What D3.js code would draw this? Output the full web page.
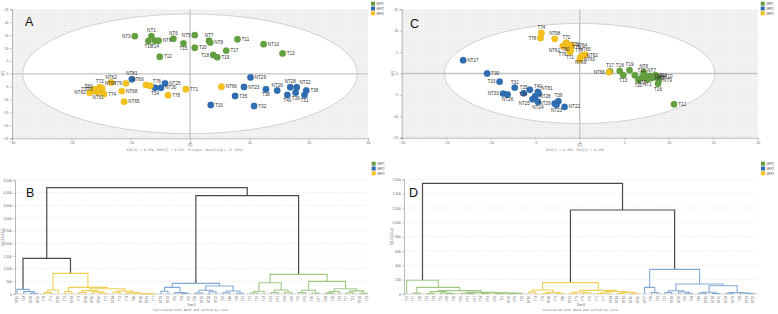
<!DOCTYPE html>
<html lang="en">
<head>
  <meta charset="UTF-8">
  <script src="https://cdn.jsdelivr.net/npm/d3@7"></script>
  <style>
    body { margin: 0; background: #fff; }
    svg text { font-family: "Liberation Sans", Arial, sans-serif; }
    .mono { font-family: "DejaVu Sans Mono", monospace; }
  </style>
</head>
<body>
<script>
  // groups
  const groupNames = ['GRP1', 'GRP2', 'GRP3'];
  const groupColors = ['#63a03f', '#2f6db3', '#f5c11b'];
  const linkColors = ['#9fc784', '#82a9d2', '#f0cf55'];

  // PCA scores, panel A  [label, t1, t2]
  const scoresA1 = [['NT3', -9.3, 14.6], ['NT1', -6.5, 14.6], ['T16', -7.0, 12.7], ['T14', -5.9, 12.8], ['NT9', -5.3, 12.8],
    ['NT6', -2.8, 13.6], ['T12', -5.1, 6.6], ['NT5', 0.8, 15.0], ['T15', -1.1, 11.8], ['T20', 0.8, 10.1], ['NT7', 3.2, 12.8],
    ['NT8', 3.4, 12.1], ['T11', 8.0, 13.4], ['NT10', 12.4, 11.5], ['T17', 6.1, 9.0], ['T18', 3.9, 7.3], ['T19', 4.6, 6.4], ['T13', 15.6, 7.9]];
  const scoresA2 = [['NT81', -9.8, -2.1], ['NT25', -4.2, -3.7], ['T34', -5.9, -5.4], ['NT30', -4.9, -5.4], ['NT29', 10.2, -1.4],
    ['NT23', 9.1, -5.1], ['T35', 7.6, -8.6], ['T33', 3.5, -12.1], ['T32', 10.8, -12.5], ['T38', 12.8, -6.0], ['NT26', 14.7, -6.5],
    ['NT28', 16.9, -5.2], ['NT22', 18.0, -5.2], ['T36', 19.6, -6.5], ['T40', 16.4, -8.2], ['T39', 17.8, -7.3], ['T31', 19.3, -8.2]];
  const scoresA3 = [['T71', -0.7, -6.0], ['NT66', 5.3, -5.0], ['T78', -3.7, -8.3], ['NT69', -7.4, -4.3], ['T76', -6.7, -4.7],
    ['T79', -10.8, -3.7], ['NT68', -11.5, -6.7], ['NT65', -11.1, -10.8], ['NT62', -13.3, -3.4], ['T72', -15.2, -5.2],
    ['NT64', -14.8, -5.6], ['T74', -14.5, -7.8], ['NT63', -16.9, -7.3], ['T80', -16.0, -6.7], ['NT61', -15.5, -7.1],
    ['T73', -15.7, -6.2], ['T77', -16.3, -6.0]];

  // PCA scores, panel C
  const scoresC1 = [['T17', 3.4, 0.5], ['T18', 4.5, 0.6], ['T13', 4.9, -0.4], ['T19', 5.6, 0.8], ['T15', 6.2, -0.4], ['NT8', 7.2, 0.3],
    ['T20', 6.6, -1.5], ['NT5', 7.0, -0.9], ['NT1', 7.6, -1.3], ['NT7', 7.3, -0.5], ['T14', 7.9, -0.6], ['NT3', 8.0, -1.1],
    ['NT6', 8.3, -0.9], ['T11', 8.5, -0.4], ['NT10', 8.7, -0.7], ['NT9', 8.9, -1.5], ['T16', 8.8, -2.4], ['T12', 10.6, -7.2]];
  const scoresC2 = [['NT27', -13.1, 3.1], ['T30', -10.4, 0.0], ['T33', -9.0, -1.9], ['T31', -7.3, -3.3], ['NT30', -8.6, -4.7],
    ['NT26', -8.1, -4.9], ['T35', -6.3, -4.6], ['T34', -5.6, -3.8], ['T40', -4.7, -4.3], ['NT81', -4.6, -4.7], ['NT28', -5.0, -5.3],
    ['NT25', -5.3, -6.0], ['NT24', -4.7, -6.6], ['NT29', -2.8, -7.0], ['T39', -2.4, -6.5], ['NT23', -2.6, -7.3], ['NT22', -1.7, -7.8]];
  const scoresC3 = [['T74', -4.3, 9.5], ['T78', -4.4, 8.3], ['NT68', -2.8, 8.1], ['T72', -1.5, 7.2], ['T80', -1.6, 6.8],
    ['NT61', -1.9, 6.4], ['NT64', -0.9, 6.6], ['T76', -1.3, 6.2], ['T79', -1.2, 5.6], ['T71', -1.1, 5.0], ['T77', -1.0, 5.4],
    ['T73', -1.4, 6.9], ['NT69', 0.1, 3.8], ['NT63', 0.0, 3.2], ['NT65', 0.6, 4.4], ['NT62', 0.3, 4.2], ['NT66', 3.3, 0.3]];

  // Ward dendrograms: [height, left, right] or leaf name
  const treeB = [4200,
    [1408,
      [184, 'NT81', [92, 'T34', [30, 'NT30', 'NT25']]],
      [816,
        [160, [55, 'T78', 'T71'], 'NT66'],
        [263,
          [95, 'T76', 'NT69'],
          [205,
            [135, [60, 'T79', 'NT68'], [85, 'NT65', [40, 'NT62', 'T72']]],
            [115, [70, 'NT64', 'T73'], [45, 'T74', [22, 'T80', [12, 'NT63', [6, 'NT61', 'T77']]]]]]]]],
    [3880,
      [421,
        [263, [110, 'NT29', 'NT23'], [55, 'T35', [25, 'T33', 'T32']]],
        [316, [150, [40, 'T38', 'NT26'], [90, 'NT28', 'NT22']], [120, [50, 'T36', 'T40'], [30, 'T39', 'T31']]]],
      [776,
        [447, [110, [40, 'T12', 'T16'], 'T14'], [160, [60, 'NT3', 'NT1'], [70, 'NT9', 'NT6']]],
        [500, [150, [55, 'T15', 'NT5'], [40, 'T20', 'NT7']],
          [210, [95, [35, 'NT8', 'T18'], 'T19'], [125, [50, 'T17', 'T11'], [30, 'NT10', 'T13']]]]]]];

  const treeD = [1544,
    [191, 'T12',
      [93, [12, 'T17', 'T18'],
        [47,
          [33, [8, 'T13', 'T19'], [14, 'T15', [6, 'NT8', 'T20']]],
          [22, [10, 'NT5', [4, 'NT1', 'NT7']], [18, [7, 'T14', 'NT3'], [12, [5, 'NT6', 'T11'], [9, [3, 'NT10', 'NT9'], 'T16']]]]]]],
    [1172,
      [158,
        [56, [30, 'NT66', 'T74'], [20, [8, 'T78', 'NT68'], [10, 'T72', 'T80']]],
        [50, [25, [12, 'NT61', 'T73'], [15, 'T79', 'T76']], [35, [18, [8, 'T71', 'T77'], 'NT64'], [22, [10, 'NT69', 'NT63'], [12, 'NT65', 'NT62']]]]],
      [344,
        [93, 'NT27', [20, 'T30', 'T33']],
        [140,
          [45, [20, 'T31', 'NT30'], [28, 'NT26', [10, 'T35', 'T34']]],
          [116, [25, [12, 'T40', 'NT81'], [8, 'NT28', 'NT25']], [20, [10, 'NT24', 'NT29'], [14, 'T39', [6, 'NT23', 'NT22']]]]]]]];

  // label placement (default right)
  const labelPosA = { NT3: 'l', NT1: 't', T16: 'b', T14: 'b', NT6: 't', NT5: 'l', T15: 'b', NT7: 't', T18: 'l',
    NT81: 't', T34: 'b', T38: 'b', NT26: 't', NT28: 't', NT22: 'tr', T40: 'b', T39: 'b', T31: 'b',
    NT69: 'tl', T76: 'tr', T79: 'l', NT62: 't', T72: 't', NT64: 'tr', NT63: 'l', T80: 'tl', NT61: 'b', T73: 'l', T77: 'l' };
  const labelPosC = { T17: 't', T18: 't', T13: 'b', T19: 't', T15: 'tr', NT8: 't', T20: 'b', NT5: 'b', NT1: 'b', NT7: 'tr',
    T14: 'r', NT3: 'r', T16: 'b', T33: 'l', T31: 't', NT30: 'l', NT26: 'b', T35: 't', T34: 'bl', T40: 't', NT81: 'tr',
    NT25: 'bl', NT24: 'b', NT29: 'l', T39: 't', NT23: 'b', T74: 't', T78: 'l', NT68: 't', T72: 't', NT61: 'bl', T79: 'bl',
    T71: 'b', NT69: 'b', NT65: 't', NT66: 'l', T80: 'b', T76: 'r' };

  const groupOf = {};
  [[scoresA1, scoresA2, scoresA3], [scoresC1, scoresC2, scoresC3]].forEach(set =>
    set.forEach((arr, gi) => arr.forEach(d => { groupOf[d[0]] = gi; })));

  const svg = d3.select('body').append('svg').attr('width', 778).attr('height', 314);

  const pat = svg.append('defs').append('pattern').attr('id', 'dots')
    .attr('width', 3).attr('height', 3).attr('patternUnits', 'userSpaceOnUse');
  pat.append('rect').attr('width', 3).attr('height', 3).attr('fill', '#f2f2f2');
  pat.append('circle').attr('cx', 1.5).attr('cy', 1.5).attr('r', 0.4).attr('fill', '#d8d8d8');

  const place = { r: [4.2, 1.6, 'start'], l: [-4.2, 1.6, 'end'], t: [0, -4, 'middle'], b: [0, 7, 'middle'],
    tr: [2.6, -3.4, 'start'], tl: [-2.6, -3.4, 'end'], br: [2.6, 6, 'start'], bl: [-2.6, 6, 'end'] };

  function legend(x, y) {
    groupNames.forEach((n, i) => {
      svg.append('rect').attr('x', x).attr('y', y + i * 4.8).attr('width', 4).attr('height', 4).attr('fill', groupColors[i]);
      svg.append('text').attr('x', x + 5.2).attr('y', y + i * 4.8 + 3.2).attr('font-size', 2.8).attr('fill', '#555').text(n);
    });
  }

  function styleAxis(a) {
    a.select('.domain').attr('stroke', '#8a8a8a').attr('stroke-width', 0.6);
    a.selectAll('.tick line').attr('stroke', '#8a8a8a').attr('stroke-width', 0.5);
    a.selectAll('text').attr('font-size', 3.4).attr('fill', '#666');
  }

  function scatter(c) {
    const x = d3.scaleLinear().domain(c.xDom).range([c.left, c.right]);
    const y = d3.scaleLinear().domain(c.yDom).range([c.bottom, c.top]);
    const g = svg.append('g');
    g.append('rect').attr('x', c.left).attr('y', c.top).attr('width', c.right - c.left)
      .attr('height', c.bottom - c.top).attr('fill', 'url(#dots)');
    g.append('ellipse').attr('cx', x(0)).attr('cy', y(0))
      .attr('rx', x(c.ea) - x(0)).attr('ry', y(0) - y(c.eb))
      .attr('fill', '#fff').attr('stroke', '#c6c6c6').attr('stroke-width', 0.8);
    g.append('line').attr('x1', x(0)).attr('x2', x(0)).attr('y1', c.top).attr('y2', c.bottom)
      .attr('stroke', '#c4c4c4').attr('stroke-width', 1.3);
    g.append('line').attr('x1', c.left).attr('x2', c.right).attr('y1', y(0)).attr('y2', y(0))
      .attr('stroke', '#c4c4c4').attr('stroke-width', 1.3);

    styleAxis(g.append('g').attr('transform', `translate(0,${c.bottom})`)
      .call(d3.axisBottom(x).tickValues(c.xTicks).tickSize(2).tickPadding(1.5)));
    styleAxis(g.append('g').attr('transform', `translate(${c.left},0)`)
      .call(d3.axisLeft(y).tickValues(c.yTicks).tickSize(2).tickPadding(1.5)));

    g.append('text').attr('x', x(0)).attr('y', c.bottom + 8).attr('text-anchor', 'middle')
      .attr('font-size', 3.2).attr('fill', '#666').text('t[1]');
    g.append('text').attr('transform', `translate(${c.left - 8},${y(0)}) rotate(-90)`).attr('text-anchor', 'middle')
      .attr('font-size', 3.2).attr('fill', '#666').text('t[2]');
    g.append('text').attr('class', 'mono').attr('x', x(0) - 5).attr('y', c.bottom + 13).attr('text-anchor', 'middle')
      .attr('font-size', 3.2).attr('fill', '#777').text(c.subtitle);

    c.series.forEach((arr, gi) => {
      g.append('g').selectAll('circle').data(arr).join('circle')
        .attr('cx', d => x(d[1])).attr('cy', d => y(d[2])).attr('r', 3.2)
        .attr('fill', groupColors[gi]).attr('stroke', d3.color(groupColors[gi]).darker(0.4)).attr('stroke-width', 0.3);
    });
    c.series.forEach(arr => {
      g.append('g').selectAll('text').data(arr).join('text')
        .attr('x', d => x(d[1]) + place[c.labelPos[d[0]] || 'r'][0])
        .attr('y', d => y(d[2]) + place[c.labelPos[d[0]] || 'r'][1])
        .attr('text-anchor', d => place[c.labelPos[d[0]] || 'r'][2])
        .attr('font-size', 4.6).attr('fill', '#333').text(d => d[0]);
    });

    svg.append('text').attr('x', c.letter[0]).attr('y', c.letter[1]).attr('font-size', 12.5).attr('fill', '#111').text(c.letter[2]);
  }

  function dendro(c) {
    const root = d3.hierarchy(c.tree, d => Array.isArray(d) ? d.slice(1) : null);
    const leaves = root.leaves().map(d => d.data);
    const x = d3.scalePoint().domain(leaves).range([c.x0, c.x1]);
    const y = d3.scaleLinear().domain([0, c.yMax]).range([c.base, c.top]);
    const g = svg.append('g');

    g.append('g').selectAll('line').data(c.ticks).join('line')
      .attr('x1', c.left).attr('x2', c.right).attr('y1', d => y(d)).attr('y2', d => y(d))
      .attr('stroke', '#dcdcdc').attr('stroke-width', 0.5).attr('stroke-dasharray', '2,1.5');
    styleAxis(g.append('g').attr('transform', `translate(${c.left},0)`)
      .call(d3.axisLeft(y).tickValues(c.ticks).tickSize(1.5).tickPadding(1.5)));
    g.append('line').attr('x1', c.left).attr('x2', c.right).attr('y1', c.base).attr('y2', c.base)
      .attr('stroke', '#bbb').attr('stroke-width', 0.5);

    root.eachAfter(n => {
      if (n.children) {
        n.px = (n.children[0].px + n.children[1].px) / 2;
        n.h = n.data[0];
        n.grp = n.children[0].grp === n.children[1].grp ? n.children[0].grp : -1;
      } else {
        n.px = x(n.data);
        n.h = 0;
        n.grp = groupOf[n.data];
      }
    });

    g.append('g').selectAll('path').data(root.descendants().filter(n => n.children)).join('path')
      .attr('d', n => {
        const [a, b] = n.children;
        return `M${a.px},${y(a.h)}V${y(n.h)}H${b.px}V${y(b.h)}`;
      })
      .attr('fill', 'none')
      .attr('stroke', n => n.grp < 0 ? '#4a4a4a' : linkColors[n.grp])
      .attr('stroke-width', n => n.grp < 0 ? 1.2 : 1.1);

    g.append('g').selectAll('text').data(leaves).join('text')
      .attr('transform', d => `translate(${x(d) + 1},${c.base + 2}) rotate(-90)`)
      .attr('text-anchor', 'end').attr('font-size', 2.9).attr('fill', '#666').text(d => d);

    const mid = (c.left + c.right) / 2;
    g.append('text').attr('x', mid).attr('y', c.base + 11.5).attr('text-anchor', 'middle')
      .attr('font-size', 2.6).attr('fill', '#666').text('Num B');
    g.append('text').attr('class', 'mono').attr('x', mid).attr('y', c.base + 16.5).attr('text-anchor', 'middle')
      .attr('font-size', 3.2).attr('fill', '#777').text('Calculated with Ward and sorted by size.');
    g.append('text').attr('transform', `translate(${c.left - 11},${(c.base + c.top) / 2}) rotate(-90)`)
      .attr('text-anchor', 'middle').attr('font-size', 2.8).attr('fill', '#666').text('D(1,2,3,4,5,6)');

    svg.append('text').attr('x', c.letter[0]).attr('y', c.letter[1]).attr('font-size', 12.5).attr('fill', '#111').text(c.letter[2]);
  }

  scatter({
    left: 12, right: 368, top: 9.3, bottom: 138.3, xDom: [-30, 30], yDom: [-25, 25],
    xTicks: [-30, -20, -10, 0, 10, 20, 30], yTicks: d3.range(-25, 26, 5), ea: 28.2, eb: 23.2,
    series: [scoresA1, scoresA2, scoresA3], labelPos: labelPosA, letter: [25, 26, 'A'],
    subtitle: "R2X[1] = 0.339, R2X[2] = 0.231, Ellipse: Hotelling's T2 (95%)"
  });
  scatter({
    left: 401.7, right: 757.7, top: 9.3, bottom: 137.7, xDom: [-20, 20], yDom: [-15, 15],
    xTicks: d3.range(-20, 21, 5), yTicks: d3.range(-15, 16, 5), ea: 15.2, eb: 11.7,
    series: [scoresC1, scoresC2, scoresC3], labelPos: labelPosC, letter: [410, 28, 'C'],
    subtitle: 'R2X[1] = 0.395, R2X[2] = 0.238'
  });
  dendro({
    tree: treeB, x0: 17, x1: 367, left: 15, right: 368, base: 294, top: 180, yMax: 4500,
    ticks: d3.range(0, 4501, 500), letter: [26, 197, 'B']
  });
  dendro({
    tree: treeD, x0: 406.7, x1: 753.3, left: 404, right: 758, base: 294, top: 179.3, yMax: 1600,
    ticks: d3.range(0, 1601, 200), letter: [409, 197, 'D']
  });

  legend(371, 1.7);
  legend(760.7, 1.7);
  legend(371.7, 161.7);
  legend(761, 161.7);
</script>
</body>
</html>
